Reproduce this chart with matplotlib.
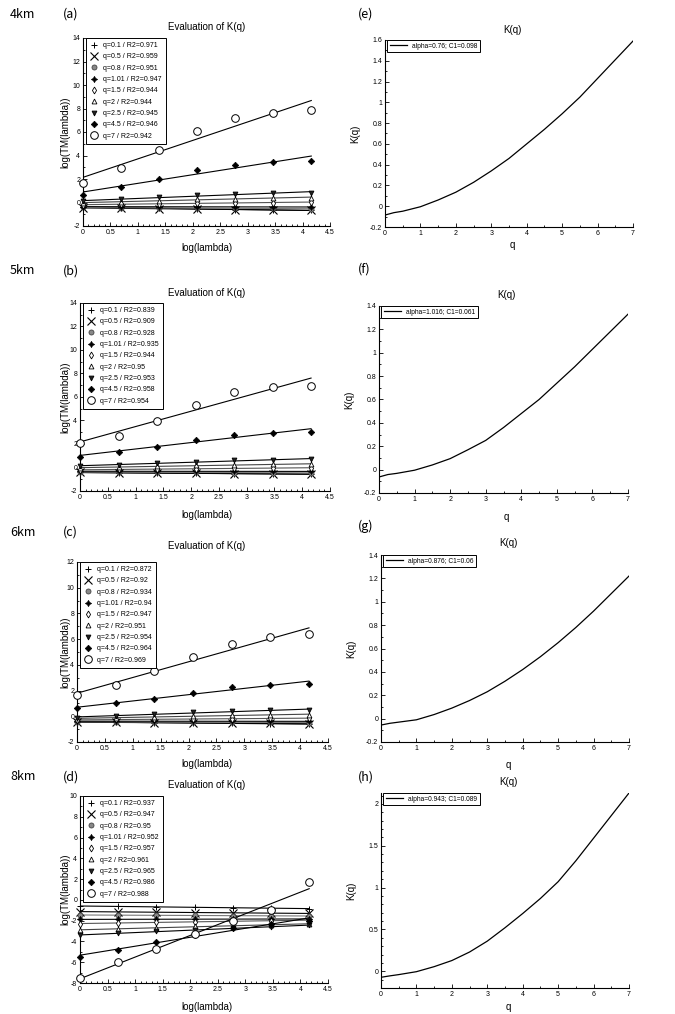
import numpy as np
import matplotlib
matplotlib.use("Agg")
import matplotlib.pyplot as plt
from matplotlib.ticker import MultipleLocator, FuncFormatter

plt.rcParams['font.family'] = ['Liberation Sans', 'DejaVu Sans']

# ---------------- data ----------------
log_lambda = [0, 0.693, 1.386, 2.079, 2.773, 3.466, 4.159]
q_labels = ["0.1", "0.5", "0.8", "1.01", "1.5", "2", "2.5", "4.5", "7"]

# panel (a) 4km
tm_4km = [
    [-0.38, -0.45, -0.50, -0.55, -0.60, -0.63, -0.67],
    [-0.45, -0.50, -0.54, -0.57, -0.60, -0.63, -0.66],
    [-0.42, -0.44, -0.46, -0.48, -0.50, -0.51, -0.53],
    [-0.35, -0.36, -0.36, -0.37, -0.37, -0.38, -0.38],
    [-0.22, -0.14, -0.09, -0.05, -0.02, 0.00, 0.01],
    [-0.05, 0.07, 0.17, 0.26, 0.33, 0.38, 0.42],
    [0.10, 0.28, 0.45, 0.60, 0.72, 0.80, 0.85],
    [0.62, 1.33, 2.04, 2.75, 3.20, 3.46, 3.57],
    [1.67, 2.97, 4.50, 6.09, 7.17, 7.62, 7.85],
]
r2_4km = ["0.971", "0.959", "0.951", "0.947", "0.944", "0.944", "0.945", "0.946", "0.942"]

# panel (b) 5km
tm_5km = [
    [-0.40, -0.45, -0.48, -0.51, -0.53, -0.55, -0.57],
    [-0.42, -0.46, -0.48, -0.50, -0.52, -0.53, -0.55],
    [-0.38, -0.40, -0.41, -0.42, -0.43, -0.44, -0.45],
    [-0.32, -0.32, -0.32, -0.33, -0.33, -0.33, -0.33],
    [-0.22, -0.16, -0.12, -0.09, -0.07, -0.05, -0.04],
    [-0.05, 0.04, 0.12, 0.18, 0.23, 0.26, 0.28],
    [0.10, 0.25, 0.38, 0.50, 0.60, 0.66, 0.70],
    [0.92, 1.35, 1.77, 2.34, 2.77, 2.96, 3.05],
    [2.06, 2.71, 3.96, 5.35, 6.40, 6.82, 6.96],
]
r2_5km = ["0.839", "0.909", "0.928", "0.935", "0.944", "0.95", "0.953", "0.958", "0.954"]

# panel (c) 6km
tm_6km = [
    [-0.42, -0.47, -0.50, -0.53, -0.56, -0.58, -0.60],
    [-0.45, -0.48, -0.50, -0.52, -0.54, -0.55, -0.57],
    [-0.42, -0.44, -0.45, -0.46, -0.47, -0.48, -0.49],
    [-0.38, -0.38, -0.38, -0.39, -0.39, -0.39, -0.39],
    [-0.30, -0.25, -0.22, -0.20, -0.18, -0.17, -0.16],
    [-0.20, -0.10, -0.03, 0.03, 0.08, 0.11, 0.13],
    [-0.10, 0.05, 0.18, 0.30, 0.40, 0.46, 0.50],
    [0.63, 1.00, 1.38, 1.80, 2.25, 2.43, 2.55],
    [1.65, 2.43, 3.50, 4.63, 5.63, 6.13, 6.38],
]
r2_6km = ["0.872", "0.92", "0.934", "0.94", "0.947", "0.951", "0.954", "0.964", "0.969"]

# panel (d) 8km
tm_8km = [
    [-0.58, -0.63, -0.68, -0.72, -0.76, -0.80, -0.83],
    [-1.12, -1.16, -1.19, -1.22, -1.25, -1.27, -1.30],
    [-1.45, -1.47, -1.49, -1.50, -1.52, -1.53, -1.55],
    [-1.88, -1.87, -1.86, -1.85, -1.85, -1.84, -1.84],
    [-2.30, -2.22, -2.15, -2.10, -2.05, -2.00, -1.97],
    [-2.92, -2.78, -2.66, -2.56, -2.47, -2.40, -2.33],
    [-3.40, -3.22, -3.04, -2.88, -2.72, -2.58, -2.46],
    [-5.45, -4.80, -4.10, -3.35, -2.70, -2.30, -2.00],
    [-7.55, -5.98, -4.70, -3.27, -2.04, -0.94, 1.69],
]
r2_8km = ["0.937", "0.947", "0.95", "0.952", "0.957", "0.961", "0.965", "0.986", "0.988"]

# K(q) curves
q_values = [0, 0.25, 0.5, 1, 1.5, 2, 2.5, 3, 3.5, 4, 4.5, 5, 5.5, 6, 6.5, 7]
k_4km = [-0.085, -0.062, -0.048, -0.005, 0.06, 0.135, 0.23, 0.34, 0.46, 0.60, 0.74, 0.89, 1.05, 1.23, 1.41, 1.59]
k_5km = [-0.063, -0.042, -0.032, -0.005, 0.04, 0.094, 0.17, 0.25, 0.36, 0.48, 0.60, 0.74, 0.88, 1.03, 1.18, 1.33]
k_6km = [-0.055, -0.040, -0.030, -0.010, 0.035, 0.09, 0.155, 0.23, 0.32, 0.42, 0.53, 0.65, 0.78, 0.92, 1.07, 1.22]
k_8km = [-0.072, -0.055, -0.040, -0.005, 0.055, 0.128, 0.23, 0.36, 0.52, 0.69, 0.87, 1.07, 1.32, 1.59, 1.86, 2.13]
k_labels = ["alpha=0.76; C1=0.098", "alpha=1.016; C1=0.061",
            "alpha=0.876; C1=0.06", "alpha=0.943; C1=0.089"]

# ---------------- layout ----------------
W, H = 675, 1014
fig = plt.figure(figsize=(W / 100, H / 100), dpi=100)


def add_ax(l, r, t, b):
    return fig.add_axes([l / W, 1 - b / H, (r - l) / W, (b - t) / H])


def ftext(x, y, s, **kw):
    fig.text(x / W, 1 - y / H, s, **kw)


fmt = FuncFormatter(lambda v, p: "%g" % round(v, 6))

markers = [
    dict(marker='+', ms=4, mfc='k', mec='k', mew=0.7),
    dict(marker='x', ms=5.5, mfc='k', mec='k', mew=0.8),
    dict(marker='o', ms=3.6, mfc='#888888', mec='#444444', mew=0.6),
    dict(marker=(4, 1, 0), ms=4.5, mfc='k', mec='k', mew=0.5),
    dict(marker='d', ms=3.5, mfc='white', mec='k', mew=0.6),
    dict(marker='^', ms=3.5, mfc='white', mec='k', mew=0.6),
    dict(marker='v', ms=3.5, mfc='#222222', mec='k', mew=0.6),
    dict(marker='D', ms=3.3, mfc='k', mec='k', mew=0.5),
    dict(marker='o', ms=5.5, mfc='white', mec='k', mew=0.7),
]
line_colors = ['k', 'k', '#777777', 'k', '#555555', '#444444', 'k', 'k', 'k']

left_panels = [
    (tm_4km, r2_4km, (83, 330, 38, 226), (-2, 14), 14, 27, 248, "4km", "(a)"),
    (tm_5km, r2_5km, (80, 330, 303, 491), (-2, 14), 271, 293, 515, "5km", "(b)"),
    (tm_6km, r2_6km, (77, 328, 562, 742), (-2, 12), 532, 546, 764, "6km", "(c)"),
    (tm_8km, r2_8km, (80, 328, 796, 983), (-8, 10), 777, 785, 1007, "8km", "(d)"),
]

for tm, r2, box, ylim, ty, tity, xly, km, tag in left_panels:
    ax = add_ax(*box)
    x = np.array(log_lambda)
    for i, series in enumerate(tm):
        y = np.array(series)
        slope, icpt = np.polyfit(x, y, 1)
        ax.plot([x[0], x[-1]], [icpt + slope * x[0], icpt + slope * x[-1]],
                color=line_colors[i], lw=0.8, zorder=2)
        ax.plot(x, y, ls='none', zorder=3, clip_on=False,
                label="q=%s / R2=%s" % (q_labels[i], r2[i]), **markers[i])
    ax.set_xlim(0, 4.5)
    ax.set_ylim(*ylim)
    ax.xaxis.set_major_locator(MultipleLocator(0.5))
    ax.xaxis.set_minor_locator(MultipleLocator(0.1))
    ax.yaxis.set_major_locator(MultipleLocator(2))
    ax.yaxis.set_minor_locator(MultipleLocator(1))
    ax.xaxis.set_major_formatter(fmt)
    ax.yaxis.set_major_formatter(fmt)
    leg = ax.legend(loc='upper left', bbox_to_anchor=(0.012, 1.0), borderaxespad=0,
                    fontsize=5, frameon=True, fancybox=False, framealpha=1,
                    edgecolor='k', handlelength=1.0, handletextpad=0.9,
                    labelspacing=0.62, borderpad=0.6, numpoints=1)
    leg.get_frame().set_linewidth(0.7)
    ftext(207, tity, "Evaluation of K(q)", fontsize=7, ha='center', va='center')
    ftext(207, xly, "log(lambda)", fontsize=7, ha='center', va='center')
    ftext(65, (box[2] + box[3]) / 2, "log(TM(lambda))", fontsize=7,
          ha='center', va='center', rotation=90)
    ftext(10, ty, km, fontsize=9, ha='left', va='center',
          family=['Noto Sans CJK KR', 'DejaVu Sans'])
    ftext(63, ty, tag, fontsize=9, ha='left', va='center',
          family=['Noto Sans CJK KR', 'DejaVu Sans'])

right_panels = [
    (k_4km, k_labels[0], (385, 633, 40, 227), (-0.2, 1.6), 0.2, 14, 30, 245, "(e)"),
    (k_5km, k_labels[1], (379, 628, 306, 493), (-0.2, 1.4), 0.2, 269, 295, 517, "(f)"),
    (k_6km, k_labels[2], (381, 629, 555, 742), (-0.2, 1.4), 0.2, 526, 543, 765, "(g)"),
    (k_8km, k_labels[3], (381, 629, 793, 988), (-0.2, 2.13), 0.5, 777, 782, 1007, "(h)"),
]

for kq, lab, box, ylim, ymaj, tagy, tity, xly, tag in right_panels:
    ax = add_ax(*box)
    ax.plot(q_values, kq, color='k', lw=0.9, label=lab)
    ax.set_xlim(0, 7)
    ax.set_ylim(*ylim)
    ax.xaxis.set_major_locator(MultipleLocator(1))
    ax.xaxis.set_minor_locator(MultipleLocator(0.5))
    ax.yaxis.set_major_locator(MultipleLocator(ymaj))
    ax.yaxis.set_minor_locator(MultipleLocator(0.1))
    ax.xaxis.set_major_formatter(fmt)
    ax.yaxis.set_major_formatter(fmt)
    leg = ax.legend(loc='upper left', bbox_to_anchor=(0.008, 1.0), borderaxespad=0,
                    fontsize=4.8, frameon=True, fancybox=False, framealpha=1,
                    edgecolor='k', handlelength=2.6, handletextpad=0.8,
                    borderpad=0.4)
    leg.get_frame().set_linewidth(0.7)
    mid = (box[0] + box[1]) / 2 + 3
    ftext(mid, tity, "K(q)", fontsize=7, ha='center', va='center')
    ftext(mid, xly, "q", fontsize=7, ha='center', va='center')
    ftext(box[0] - 30, (box[2] + box[3]) / 2, "K(q)", fontsize=7,
          ha='center', va='center', rotation=90)
    ftext(358, tagy, tag, fontsize=9, ha='left', va='center',
          family=['Noto Sans CJK KR', 'DejaVu Sans'])

for ax in fig.axes:
    ax.spines['top'].set_visible(False)
    ax.spines['right'].set_visible(False)
    for s in ('left', 'bottom'):
        ax.spines[s].set_linewidth(0.8)
    ax.tick_params(which='both', direction='in', labelsize=5, pad=2, width=0.6)
    ax.tick_params(which='major', length=3)
    ax.tick_params(which='minor', length=1.6)

fig.savefig("out.png", dpi=100)
